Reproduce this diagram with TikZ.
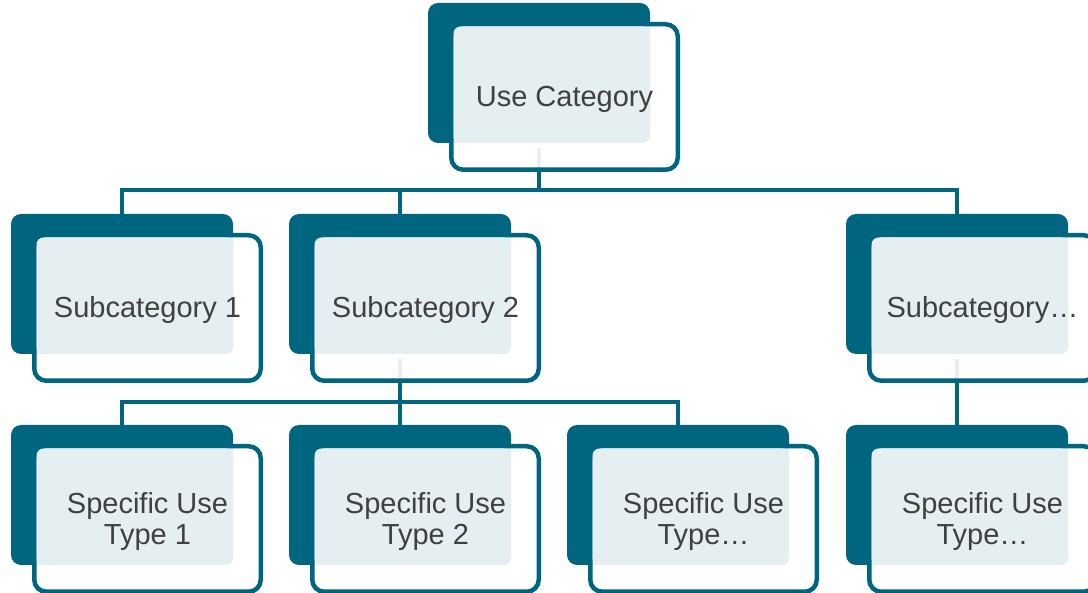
\documentclass[tikz,border=0pt]{standalone}
\usepackage{fontspec}
\setmainfont{Liberation Sans}
\definecolor{teal}{RGB}{0,101,127}
\definecolor{tint}{RGB}{229,238,241}
\definecolor{ink}{RGB}{64,64,64}
\pgfdeclarelayer{bg}
\pgfsetlayers{bg,main}
\tikzset{
  backbox/.style={fill=teal, rounded corners=10pt, minimum width=222pt,
    minimum height=140pt, inner sep=0pt, outer sep=0pt, anchor=north west},
  frontbox/.style={draw=teal, line width=4.5pt, fill=white, fill opacity=0.9,
    rounded corners=12pt, minimum width=226.5pt, minimum height=145.5pt,
    inner sep=0pt, outer sep=0pt, anchor=north west},
  label/.style={text=ink, align=center, font=\fontsize{29}{31}\selectfont},
  conn/.style={draw=teal, line width=4pt}
}
% one card: dark back panel, outlined front panel, tinted overlap, centred label
\newcommand{\card}[4]{%
  \node[backbox] (#1b) at (#2,#3) {};
  \node[frontbox] (#1f) at (#2+23.25,#3+21.25) {};
  \fill[tint, rounded corners=7pt] (#2+25.5,#3+23.5) rectangle (#2+222,#3+140);
  \node[label] (#1) at ([yshift=-2.5pt]#1f.center) {#4};
}
\begin{document}
\begin{tikzpicture}[x=1pt,y=-1pt]
\clip (0,0) rectangle (1088,593);
\useasboundingbox (0,0) rectangle (1088,593);
% top level
\card{uc}{428}{3}{Use Category}
% second level
\card{sa}{11}{214}{Subcategory 1}
\card{sb}{289}{214}{Subcategory 2}
\card{sc}{846}{214}{Subcategory…}
% third level
\card{ta}{11}{425}{Specific Use\\Type 1}
\card{tb}{289}{425}{Specific Use\\Type 2}
\card{tc}{567}{425}{Specific Use\\Type…}
\card{td}{846}{425}{Specific Use\\Type…}
% connectors
\coordinate (bar1) at (0,190);
\coordinate (bar2) at (0,402);
\begin{pgfonlayer}{bg}
  \draw[conn] ([yshift=-5pt]ucb.south) -- (ucb.south |- bar1);
  \draw[conn] (sab.north) -- (sab.north |- bar1) -- (scb.north |- bar1) -- (scb.north);
  \draw[conn] (sbb.north) -- (sbb.north |- bar1);
  \draw[conn] ([yshift=-5pt]sbb.south) -- (sbb.south |- bar2);
  \draw[conn] (tab.north) -- (tab.north |- bar2) -- (tcb.north |- bar2) -- (tcb.north);
  \draw[conn] (tbb.north) -- (tbb.north |- bar2);
  \draw[conn] ([yshift=-5pt]scb.south) -- (tdb.north);
\end{pgfonlayer}
\end{tikzpicture}
\end{document}
